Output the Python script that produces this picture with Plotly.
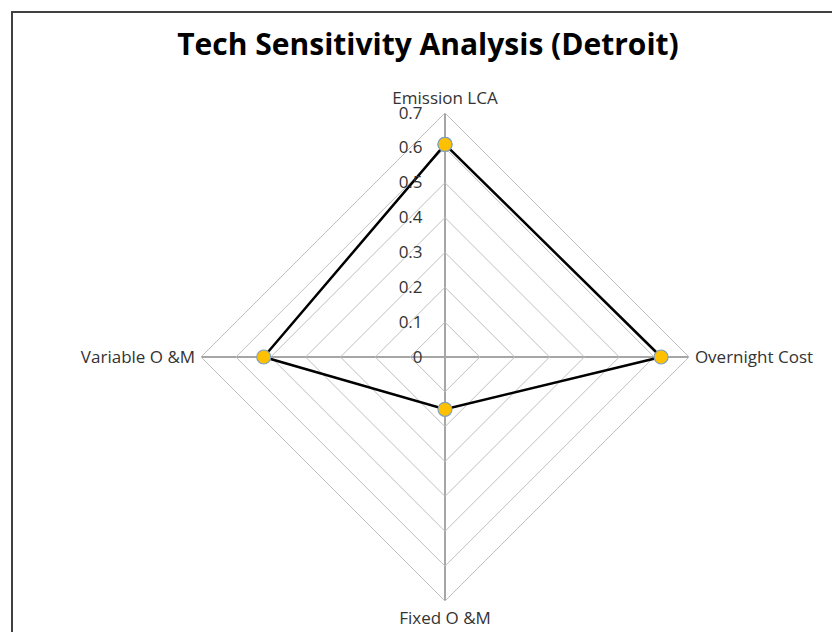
import plotly.graph_objects as go

categories = ["Emission LCA", "Overnight Cost", "Fixed O &M", "Variable O &M"]
values = [0.61, 0.62, 0.15, 0.52]
tick_vals = [0, 0.1, 0.2, 0.3, 0.4, 0.5, 0.6, 0.7]
tick_text = ["0", "0.1", "0.2", "0.3", "0.4", "0.5", "0.6", "0.7"]

# page has an 8px body margin, so work in figure coords shifted by 8px
OFF = 8
W, H = 840 - OFF, 632 - OFF
cx, cy, R = 445 - OFF, 357 - OFF, 244

FONT = "Open Sans, Noto Sans, sans-serif"

fig = go.Figure()
fig.add_trace(go.Scatterpolar(
    r=values + values[:1],
    theta=categories + categories[:1],
    mode="lines+markers",
    line=dict(color="black", width=2.5),
    marker=dict(size=14, color="#FFC000", line=dict(color="#7f9fbf", width=1.2)),
    showlegend=False,
    hoverinfo="skip",
))

fig.update_layout(
    width=W, height=H,
    margin=dict(l=0, r=0, t=0, b=0),
    paper_bgcolor="white",
    font=dict(family=FONT, color="#333333", size=17),
    title=dict(text="<b>Tech Sensitivity Analysis (Detroit)</b>",
               x=(428 - OFF) / W, xanchor="center", y=1 - (44 - OFF) / H, yanchor="middle",
               font=dict(size=30, color="black", family=FONT)),
    polar=dict(
        domain=dict(x=[(cx - R) / W, (cx + R) / W], y=[(H - cy - R) / H, (H - cy + R) / H]),
        bgcolor="white",
        gridshape="linear",
        angularaxis=dict(
            direction="clockwise", rotation=90,
            categoryorder="array", categoryarray=categories,
            showline=True, linecolor="#bfbfbf", linewidth=1,
            gridcolor="#a6a6a6", gridwidth=1.5,
            ticks="outside", ticklen=2, tickcolor="rgba(0,0,0,0)",
            tickfont=dict(size=17, color="#333333", family=FONT),
        ),
        radialaxis=dict(
            range=[0, 0.7], angle=90, tickangle=90,
            tickvals=tick_vals, ticktext=tick_text,
            side="counterclockwise",
            showline=False, ticks="outside", ticklen=16, tickcolor="rgba(0,0,0,0)",
            gridcolor="#bfbfbf", gridwidth=1,
            tickfont=dict(size=17, color="#333333", family=FONT),
        ),
    ),
    shapes=[dict(type="rect", xref="paper", yref="paper",
                 x0=(12 - OFF) / W, x1=1.05, y0=-0.05, y1=1 - (12 - OFF) / H,
                 line=dict(color="#404040", width=2), fillcolor="rgba(0,0,0,0)")],
)

fig.write_html("out.html")
